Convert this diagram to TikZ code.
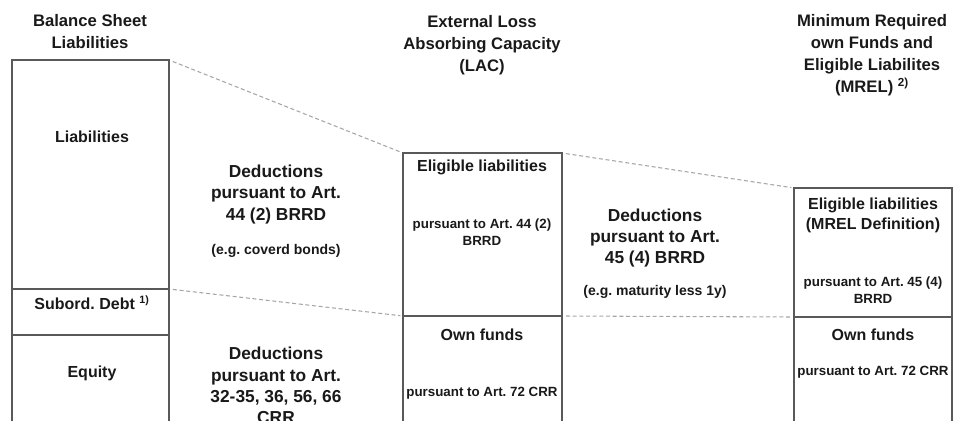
\documentclass[tikz,border=0pt]{standalone}
\usepackage{fontspec}
\setmainfont{Liberation Sans}
\usetikzlibrary{positioning}
\frenchspacing

\tikzset{
  box/.style={draw=black!65, line width=1pt, inner sep=0pt, outer sep=0pt, anchor=north west},
  title/.style={align=center, text=black!90, font=\bfseries\fontsize{12.5}{16.5}\selectfont},
  deduct/.style={align=center, text=black!90, font=\bfseries\fontsize{13}{16}\selectfont},
  note/.style={align=center, text=black!90, font=\bfseries\fontsize{10.5}{13}\selectfont},
  head/.style={align=center, text=black!90, font=\bfseries\fontsize{12}{15}\selectfont},
  smalltxt/.style={align=center, text=black!90, font=\bfseries\fontsize{10}{12.75}\selectfont},
  link/.style={draw=black!35, densely dashed, line width=0.8pt, shorten <=3pt, shorten >=2pt},
}

\begin{document}
\begin{tikzpicture}[x=0.75pt, y=-0.75pt]
\useasboundingbox (0,0) rectangle (957,421);
% balance sheet
\node[box, minimum width=117.75pt, minimum height=171.75pt] (liab) at (12,60) {};
\node[box, minimum width=117.75pt, minimum height=34.5pt] (subord) at (12,289) {};
\node[box, minimum width=117.75pt, minimum height=100pt] (equity) at (12,335) {};
\node[title] (bstitle) at (90,32) {Balance Sheet\\Liabilities};
\node[head] (liabtxt) at (92,137) {Liabilities};
\node[head] (subordtxt) at (92,303) {Subord. Debt \textsuperscript{1)}};
\node[head] (equitytxt) at (92,373) {Equity};
% LAC
\node[box, minimum width=119.25pt, minimum height=122.25pt] (lacel) at (403,153) {};
\node[box, minimum width=119.25pt, minimum height=100pt] (lacof) at (403,316) {};
\node[title] (lactitle) at (482,45) {External Loss\\Absorbing Capacity\\(LAC)};
\node[head] (laceltxt) at (482,167) {Eligible liabilities};
\node[smalltxt] (lacelnote) at (482,232) {pursuant to Art. 44 (2)\\BRRD};
\node[head] (lacoftxt) at (482,335) {Own funds};
\node[smalltxt] (lacofnote) at (482,393) {pursuant to Art. 72 CRR};
% MREL
\node[box, minimum width=118.5pt, minimum height=96.75pt] (mrelel) at (794,188) {};
\node[box, minimum width=118.5pt, minimum height=100pt] (mrelof) at (794,317) {};
\node[title] (mreltitle) at (872,55) {Minimum Required\\own Funds and\\Eligible Liabilites\\(MREL) \textsuperscript{2)}};
\node[head] (mreleltxt) at (873,215) {Eligible liabilities\\(MREL Definition)};
\node[smalltxt] (mrelelnote) at (873,290) {pursuant to Art. 45 (4)\\BRRD};
\node[head] (mreloftxt) at (873,335) {Own funds};
\node[smalltxt] (mrelofnote) at (873,372) {pursuant to Art. 72 CRR};
% deductions
\node[deduct] (ded1) at (276,194.5) {Deductions\\pursuant to Art.\\44 (2) BRRD};
\node[note] (ded1note) at (276,251) {(e.g. coverd bonds)};
\node[deduct] (ded2) at (276,385.5) {Deductions\\pursuant to Art.\\32-35, 36, 56, 66\\CRR};
\node[deduct] (ded3) at (655,238) {Deductions\\pursuant to Art.\\45 (4) BRRD};
\node[note] (ded3note) at (655,292) {(e.g. maturity less 1y)};
% links
\draw[link] (liab.north east) -- (lacel.north west);
\draw[link] (liab.south east) -- (lacel.south west);
\draw[link] (lacel.north east) -- (mrelel.north west);
\draw[link] (lacel.south east) -- (mrelel.south west);
\end{tikzpicture}
\end{document}
